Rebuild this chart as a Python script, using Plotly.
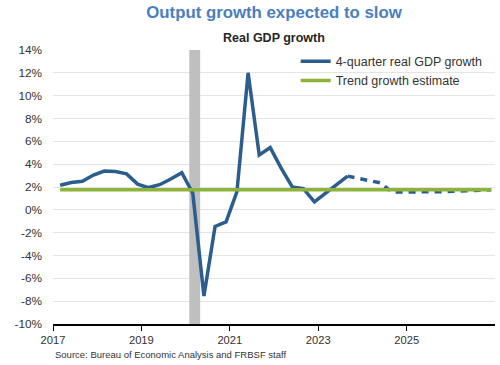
import plotly.graph_objects as go

# ---- data ----
actual_quarters = [
    "2017Q1", "2017Q2", "2017Q3", "2017Q4",
    "2018Q1", "2018Q2", "2018Q3", "2018Q4",
    "2019Q1", "2019Q2", "2019Q3", "2019Q4",
    "2020Q1", "2020Q2", "2020Q3", "2020Q4",
    "2021Q1", "2021Q2", "2021Q3", "2021Q4",
    "2022Q1", "2022Q2", "2022Q3", "2022Q4",
    "2023Q1", "2023Q2", "2023Q3",
]
actual_growth = [
    2.15, 2.4, 2.5, 3.05,
    3.4, 3.35, 3.15, 2.25,
    1.95, 2.2, 2.7, 3.25,
    1.45, -7.55, -1.45, -1.05,
    1.6, 12.0, 4.8, 5.45,
    3.65, 2.0, 1.85, 0.7,
    1.45, 2.2, 2.95,
]
forecast_quarters = [
    "2023Q3", "2023Q4",
    "2024Q1", "2024Q2", "2024Q3", "2024Q4",
    "2025Q1", "2025Q2", "2025Q3", "2025Q4",
    "2026Q1", "2026Q2", "2026Q3", "2026Q4",
]
forecast_growth = [
    2.95, 2.75,
    2.55, 2.35, 1.55, 1.55,
    1.55, 1.55, 1.6, 1.6,
    1.65, 1.7, 1.75, 1.75,
]
trend_quarters = ["2017Q1", "2026Q4"]
trend_growth = [1.75, 1.75]

recession_start = "2020-02-01"
recession_end = "2020-05-01"

y_ticks = [-10, -8, -6, -4, -2, 0, 2, 4, 6, 8, 10, 12, 14]
x_tick_years = ["2017", "2019", "2021", "2023", "2025"]

# ---- helpers ----
Q_MONTH = {"Q1": "03", "Q2": "06", "Q3": "09", "Q4": "12"}


def qdate(q):
    return f"{q[:4]}-{Q_MONTH[q[4:]]}-01"


FONT = "Liberation Sans, Arial, sans-serif"
BLUE = "#2c5d8f"
GREEN = "#8db33a"

fig = go.Figure()

fig.add_trace(go.Scatter(
    x=[qdate(q) for q in actual_quarters], y=actual_growth,
    mode="lines", name="4-quarter real GDP growth",
    line=dict(color=BLUE, width=3.5),
))
fig.add_trace(go.Scatter(
    x=[qdate(q) for q in forecast_quarters], y=forecast_growth,
    mode="lines", showlegend=False,
    line=dict(color=BLUE, width=3.5, dash="7px,6px"),
))
fig.add_trace(go.Scatter(
    x=[qdate(q) for q in trend_quarters], y=trend_growth,
    mode="lines", name="Trend growth estimate",
    line=dict(color=GREEN, width=3.5),
))

fig.add_shape(
    type="rect", xref="x", yref="y",
    x0=recession_start, x1=recession_end, y0=y_ticks[0], y1=y_ticks[-1],
    fillcolor="#bfbfbf", line=dict(width=0), layer="between",
)

fig.update_layout(
    width=500, height=365,
    margin=dict(l=53, r=5, t=50, b=41),
    paper_bgcolor="white", plot_bgcolor="white",
    font=dict(family=FONT, size=12, color="#333333"),
    title=dict(
        text="<b>Output growth expected to slow</b>",
        x=0.5, xref="paper", xanchor="center",
        y=1 - 12 / 365, yref="container", yanchor="middle",
        font=dict(family=FONT, size=16.8, color="#4a7ebf"),
    ),
    legend=dict(
        x=0.549, y=1.012, xanchor="left", yanchor="top",
        bgcolor="rgba(0,0,0,0)", borderwidth=0,
        font=dict(family=FONT, size=12.5, color="#333333"),
        tracegroupgap=0,
    ),
    showlegend=True,
    annotations=[
        dict(text="<b>Real GDP growth</b>", x=0.5, xref="paper", xanchor="center",
             y=1 + 12 / 274, yref="paper", yanchor="middle", showarrow=False,
             font=dict(family=FONT, size=12.5, color="#262626")),
        dict(text="Source: Bureau of Economic Analysis and FRBSF staff",
             x=0, xref="paper", xanchor="left",
             y=-30 / 274, yref="paper", yanchor="middle", showarrow=False,
             font=dict(family=FONT, size=9.5, color="#333333")),
    ],
)

fig.update_xaxes(
    type="date",
    range=["2017-01-01", "2027-01-01"],
    tickvals=[f"{y}-01-01" for y in x_tick_years],
    ticktext=x_tick_years,
    showgrid=False, zeroline=False,
    showline=True, linecolor="black", linewidth=1.5,
    ticks="outside", ticklen=5, tickcolor="black", tickwidth=1,
    tickfont=dict(family=FONT, size=11.2, color="#333333"),
)
fig.update_yaxes(
    range=[y_ticks[0], y_ticks[-1]],
    tickvals=y_ticks,
    ticktext=[f"{v}%" for v in y_ticks],
    showgrid=True, gridcolor="#e4e4e4", gridwidth=1,
    zeroline=False, showline=False,
    ticks="", ticklabelstandoff=10,
    tickfont=dict(family=FONT, size=11.8, color="#333333"),
)

fig.write_html(
    "out.html",
    config={"displayModeBar": False},
    post_script="document.body.style.margin='0';",
)
